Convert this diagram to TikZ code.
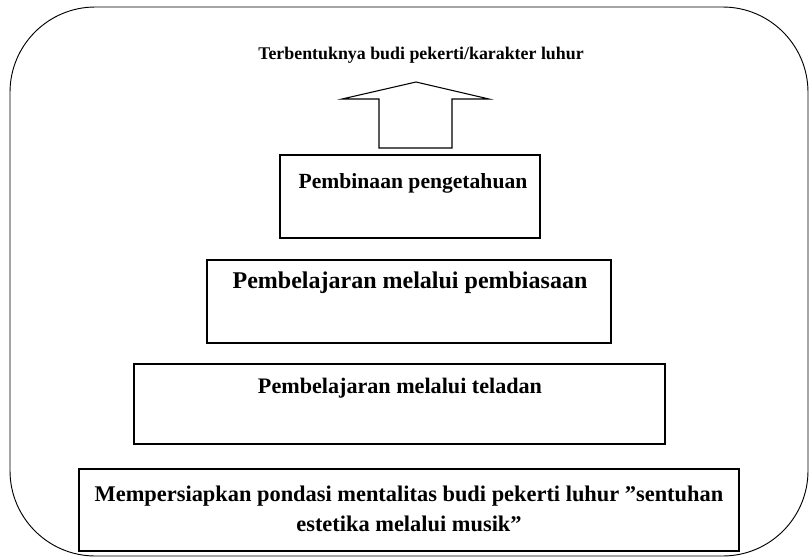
\documentclass[tikz,border=0pt]{standalone}
\usepackage{fontspec}
\setmainfont{Liberation Serif}
\usepackage{tikz}
\usetikzlibrary{positioning}

\begin{document}
\begin{tikzpicture}[x=0.75pt,y=-0.75pt,
	box node/.style={rectangle, draw, line width=0.9pt, inner sep=0pt},
	txt node/.style={inner sep=0pt, align=center, font=\bfseries}]
	\useasboundingbox (0,0) rectangle (809,557);

	% outer frame
	\draw[line width=0.7pt, rounded corners=64pt] (10,7) rectangle (808,556);

	\node[txt node, font=\bfseries\fontsize{13.4}{16}\selectfont] (top) at (421,55) {Terbentuknya budi pekerti/karakter luhur};

	\node[box node, minimum width=195pt, minimum height=62.25pt] (1) at (410,196.5) {};
	\node[box node, minimum width=303pt, minimum height=62.25pt] (2) at (409,301.5) {};
	\node[box node, minimum width=398.25pt, minimum height=60pt] (3) at (399.5,404) {};
	\node[box node, minimum width=495pt, minimum height=61.5pt] (4) at (409,510) {};

	\node[txt node, font=\bfseries\fontsize{16.2}{19}\selectfont] (t1) at (413,183) {Pembinaan pengetahuan};
	\node[txt node, font=\bfseries\fontsize{18}{21}\selectfont] (t2) at (410,283) {Pembelajaran melalui pembiasaan};
	\node[txt node, font=\bfseries\fontsize{16.6}{19}\selectfont] (t3) at (400,388) {Pembelajaran melalui teladan};
	\node[txt node, font=\bfseries\fontsize{16.8}{22}\selectfont] (t4) at (409,509) {Mempersiapkan pondasi mentalitas budi pekerti luhur ''sentuhan\\estetika melalui musik''};

	% block arrow
	\draw[line width=0.8pt] (379,148) -- (379,99) -- (342,99) -- (416,82) -- (489,99) -- (452,99) -- (452,148) -- cycle;
\end{tikzpicture}
\end{document}
